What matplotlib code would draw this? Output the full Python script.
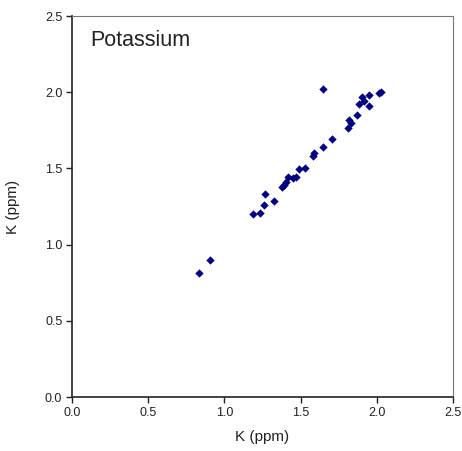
import matplotlib.pyplot as plt

plt.rcParams['font.family'] = ['Liberation Sans', 'DejaVu Sans']

k_x = [1.644, 2.026, 2.015, 1.948, 1.900, 1.915, 1.882, 1.948, 1.871, 1.816,
       1.830, 1.812, 1.703, 1.648, 1.591, 1.582, 1.526, 1.490, 1.467, 1.451,
       1.418, 1.403, 1.392, 1.375, 1.266, 1.325, 1.259, 1.233, 1.189, 0.905,
       0.835]
k_y = [2.019, 2.001, 1.993, 1.982, 1.967, 1.944, 1.921, 1.911, 1.852, 1.817,
       1.796, 1.765, 1.693, 1.638, 1.599, 1.581, 1.501, 1.494, 1.446, 1.435,
       1.446, 1.413, 1.391, 1.376, 1.330, 1.286, 1.258, 1.205, 1.199, 0.899,
       0.816]
ticks = [0.0, 0.5, 1.0, 1.5, 2.0, 2.5]

fig = plt.figure(figsize=(4.62, 4.51), dpi=100)
ax = fig.add_axes([0.1558, 0.1197, 0.8247, 0.8448])

ax.scatter(k_x, k_y, marker='D', s=18, color='#000080', linewidths=0, zorder=3)

ax.set_xlim(0, 2.5)
ax.set_ylim(0, 2.5)
ax.set_xticks(ticks)
ax.set_yticks(ticks)
ax.set_xticklabels(['%.1f' % t for t in ticks])
ax.set_yticklabels(['%.1f' % t for t in ticks])
ax.tick_params(direction='out', length=4, width=1, labelsize=9, colors='#222222', pad=3)

ax.spines['left'].set_linewidth(1.2)
ax.spines['bottom'].set_linewidth(1.2)
ax.spines['left'].set_color('#222222')
ax.spines['bottom'].set_color('#222222')
ax.spines['top'].set_color('#777777')
ax.spines['right'].set_color('#777777')
ax.spines['top'].set_linewidth(0.8)
ax.spines['right'].set_linewidth(0.8)

ax.set_xlabel('K (ppm)', fontsize=11, color='#222222', labelpad=8)
ax.set_ylabel('K (ppm)', fontsize=11, color='#222222', labelpad=18)
ax.text(0.048, 0.935, 'Potassium', transform=ax.transAxes, fontsize=15.5,
        color='#222222', va='center', ha='left')

plt.savefig('out.png', dpi=100)
